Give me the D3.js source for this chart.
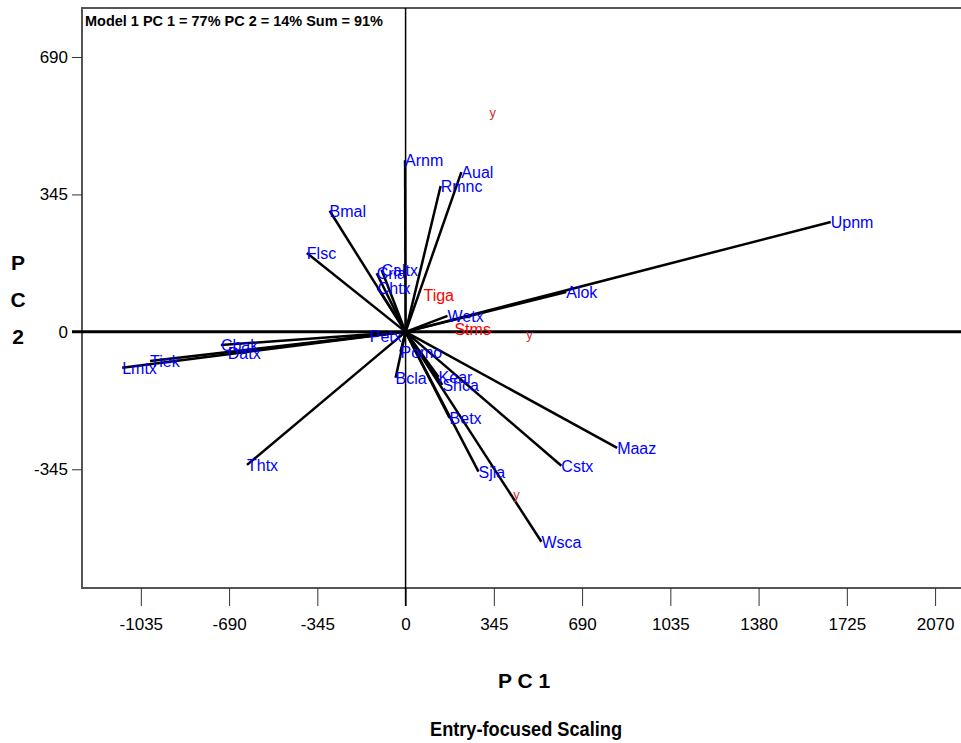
<!DOCTYPE html>
<html>
<head>
<meta charset="utf-8">
<script src="https://cdn.jsdelivr.net/npm/d3@7"></script>
<style>
  body { margin: 0; background: #fff; }
  text { font-family: "Liberation Sans", Arial, sans-serif; }
</style>
</head>
<body>
<div id="chart"></div>
<script>
"use strict";

// entry vectors (blue, with lines)
var entryNames = ["Upnm", "Alok", "Maaz", "Cstx", "Wsca", "Sjla", "Betx", "Kear", "Shca", "Pomo",
                  "Bcla", "Petx", "Thtx", "Cbak", "Datx", "Tiek", "Lmtx", "Flsc", "Bmal", "Crla",
                  "Caltx", "Chtx", "Arnm", "Aual", "Rmnc", "Wetx"];
var entryPC1 = [1662, 628, 827, 609, 531, 285, 172, 129, 144, -20,
                -39, -140, -620, -722, -695, -999, -1108, -386, -297, -113,
                -94, -109, -2, 218, 137, 164];
var entryPC2 = [276, 100, -291, -336, -527, -351, -216, -113, -133, -50,
                -115, -10, -334, -33, -53, -73, -90, 198, 304, 147,
                156, 110, 431, 401, 366, 40];

// red labels without vectors
var testerNames = ["Tiga", "Stms"];
var testerPC1 = [70, 191];
var testerPC2 = [93, 8];

// small red "y" markers
var markPC1 = [328, 472, 421];
var markPC2 = [549, -8, -409];

var xTicks = [-1035, -690, -345, 0, 345, 690, 1035, 1380, 1725, 2070];
var yTicks = [-345, 0, 345, 690];

function renderMyChart() {
    var svg = d3.select("#chart").append("svg")
        .attr("width", 961)
        .attr("height", 743);

    var left = 82, top = 8, bottom = 588;
    var x = d3.scaleLinear().domain([-1265, 2300]).range([left, left + 3565 * 0.2558]);
    var y = d3.scaleLinear().domain([-643, 813]).range([bottom, top]);
    var fmt = function (d) { return String(d); }; // plain hyphen minus

    // frame
    svg.append("rect")
        .attr("x", left).attr("y", top)
        .attr("width", x(2300) - left).attr("height", bottom - top)
        .attr("fill", "none").attr("stroke", "#555").attr("stroke-width", 2);

    // x axis ticks + labels
    var xAxis = svg.append("g")
        .attr("transform", "translate(0," + bottom + ")")
        .call(d3.axisBottom(x).tickValues(xTicks).tickSize(18).tickPadding(12).tickFormat(fmt));
    xAxis.select(".domain").remove();
    xAxis.selectAll("line").attr("stroke", "#333");
    xAxis.selectAll("text").attr("font-size", 17).attr("fill", "#000")
        .attr("font-family", "Liberation Sans Narrow, Liberation Sans, Arial");

    var yAxis = svg.append("g")
        .attr("transform", "translate(" + left + ",0)")
        .call(d3.axisLeft(y).tickValues(yTicks).tickSize(10).tickPadding(4).tickFormat(fmt));
    yAxis.select(".domain").remove();
    yAxis.selectAll("line").attr("stroke", "#333");
    yAxis.selectAll("text").attr("font-size", 17).attr("fill", "#000")
        .attr("font-family", "Liberation Sans Narrow, Liberation Sans, Arial");

    // zero lines
    svg.append("line")
        .attr("x1", left - 10).attr("x2", 961)
        .attr("y1", y(0)).attr("y2", y(0))
        .attr("stroke", "#000").attr("stroke-width", 3);
    svg.append("line")
        .attr("x1", x(0)).attr("x2", x(0))
        .attr("y1", top).attr("y2", bottom + 18)
        .attr("stroke", "#000").attr("stroke-width", 1.5);

    // title box text
    svg.append("text")
        .attr("x", 85).attr("y", 26)
        .attr("font-size", 15).attr("font-weight", "bold")
        .attr("textLength", 298).attr("lengthAdjust", "spacingAndGlyphs")
        .text("Model 1 PC 1 = 77% PC 2 = 14% Sum = 91%");

    // vectors
    var entries = entryNames.map(function (n, i) { return { name: n, pc1: entryPC1[i], pc2: entryPC2[i] }; });
    svg.selectAll(".vec")
        .data(entries)
        .enter().append("line")
        .attr("class", "vec")
        .attr("x1", x(0)).attr("y1", y(0))
        .attr("x2", function (d) { return x(d.pc1); })
        .attr("y2", function (d) { return y(d.pc2); })
        .attr("stroke", "#000").attr("stroke-width", 2.5);

    svg.selectAll(".entryLabel")
        .data(entries)
        .enter().append("text")
        .attr("class", "entryLabel")
        .attr("x", function (d) { return x(d.pc1); })
        .attr("y", function (d) { return y(d.pc2) + 6; })
        .attr("font-size", 16).attr("fill", "#0000ff")
        .text(function (d) { return d.name; });

    var testers = testerNames.map(function (n, i) { return { name: n, pc1: testerPC1[i], pc2: testerPC2[i] }; });
    svg.selectAll(".testerLabel")
        .data(testers)
        .enter().append("text")
        .attr("class", "testerLabel")
        .attr("x", function (d) { return x(d.pc1); })
        .attr("y", function (d) { return y(d.pc2) + 6; })
        .attr("font-size", 16).attr("fill", "#ff0000")
        .text(function (d) { return d.name; });

    svg.selectAll(".mark")
        .data(markPC1)
        .enter().append("text")
        .attr("class", "mark")
        .attr("x", function (d) { return x(d); })
        .attr("y", function (d, i) { return y(markPC2[i]) + 4; })
        .attr("font-size", 13).attr("fill", "#d03030")
        .text("y");

    // axis titles
    svg.append("text")
        .attr("x", 524).attr("y", 688)
        .attr("text-anchor", "middle")
        .attr("font-size", 21).attr("font-weight", "bold")
        .text("P C  1");
    svg.append("text")
        .attr("x", 526).attr("y", 736)
        .attr("text-anchor", "middle")
        .attr("font-size", 20).attr("font-weight", "bold")
        .attr("textLength", 192).attr("lengthAdjust", "spacingAndGlyphs")
        .text("Entry-focused Scaling");

    ["P", "C", "2"].forEach(function (c, i) {
        svg.append("text")
            .attr("x", 18).attr("y", 270 + i * 37)
            .attr("text-anchor", "middle")
            .attr("font-size", 21).attr("font-weight", "bold")
            .text(c);
    });
}

renderMyChart();
</script>
</body>
</html>
